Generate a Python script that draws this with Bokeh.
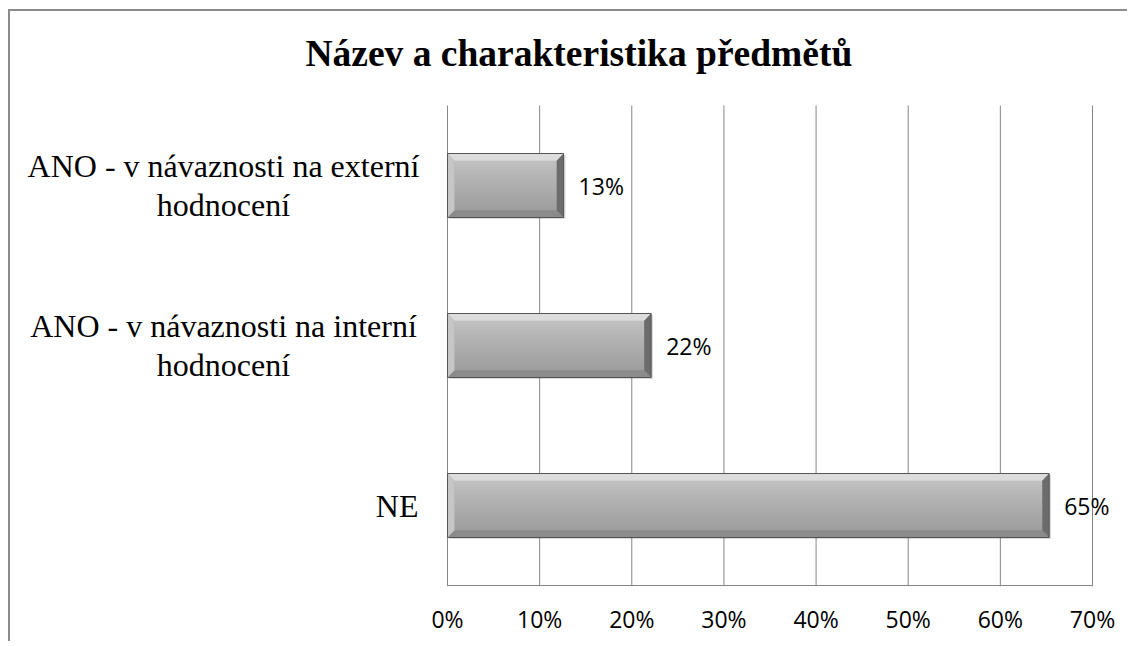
from bokeh.plotting import figure
from bokeh.models import LabelSet, ColumnDataSource, FixedTicker, Range1d
from bokeh.core.properties import value
from bokeh.embed import file_html
from bokeh.resources import INLINE

# ---- data ----
title_text = "Název a charakteristika předmětů"
categories = ["ANO - v návaznosti na externí\nhodnocení",
              "ANO - v návaznosti na interní\nhodnocení",
              "NE"]
values = [12.6, 22.1, 65.3]
value_labels = ["13%", "22%", "65%"]
x_ticks = [0, 10, 20, 30, 40, 50, 60, 70]
x_tick_labels = ["0%", "10%", "20%", "30%", "40%", "50%", "60%", "70%"]

n = len(categories)
ypos = [n - 1 - i for i in range(n)]

# ---- layout (pixels) ----
W, H = 1119, 632
px_per_unit = 645.0 / x_ticks[-1]          # 10 % = ~92 px
py_per_unit = 160.0                         # one category band = 160 px
x_start = -437.0 / px_per_unit              # room on the left for category labels
x_end = 665.0 / px_per_unit                 # room on the right for the last value label
y_lo = -0.5 - 1.0 / py_per_unit
y_plot_top = n - 0.5
y_hi = y_plot_top + 94.0 / py_per_unit      # room above for the title

p = figure(width=W, height=H, output_backend="svg", toolbar_location=None,
           x_range=Range1d(x_start, x_end),
           y_range=Range1d(y_lo, y_hi),
           min_border_left=0, min_border_right=17,
           min_border_top=0, min_border_bottom=57)
p.styles = {"margin-left": "8px", "margin-top": "9px",
            "border-left": "2px solid #8c8c8c",
            "border-top": "2px solid #8c8c8c"}
p.outline_line_color = None
p.background_fill_color = "white"
p.border_fill_color = "white"

# y axis hidden: category labels drawn next to the bars
p.yaxis.visible = False
p.ygrid.visible = False

# x axis
p.xaxis.ticker = FixedTicker(ticks=x_ticks)
p.xaxis.major_label_overrides = {t: s for t, s in zip(x_ticks, x_tick_labels)}
p.xaxis.axis_line_color = None
p.xaxis.major_tick_out = 0
p.xaxis.major_tick_in = 0
p.xaxis.minor_tick_out = 0
p.xaxis.minor_tick_in = 0
p.xaxis.major_label_standoff = 16
p.xaxis.major_label_text_font = "Open Sans"
p.xaxis.major_label_text_font_size = "23px"
p.xaxis.major_label_text_color = "black"
p.xgrid.visible = False

# vertical gridlines only over the plot area
p.segment(x0=x_ticks, x1=x_ticks, y0=[y_lo] * len(x_ticks),
          y1=[y_plot_top] * len(x_ticks), line_color="#868686", line_width=1)
# bottom axis line, from the first to the last tick
p.segment(x0=[x_ticks[0]], x1=[x_ticks[-1]], y0=[-0.5], y1=[-0.5],
          line_color="#868686", line_width=1)

# title
p.text(x=[x_ticks[0]], y=[y_plot_top + 52.0 / py_per_unit], text=[title_text],
       x_offset=-142, text_align="left", text_baseline="middle",
       text_font=value("Liberation Serif"), text_font_style="bold",
       text_font_size="37.5px", text_color="black")

# ---- category labels ----
cat_src = ColumnDataSource(dict(
    x=[x_ticks[0]] * n, y=ypos, t=categories,
    align=["center" if "\n" in c else "right" for c in categories],
    xoff=[-224 if "\n" in c else -29 for c in categories]))
p.text(x="x", y="y", text="t", source=cat_src, text_align="align",
       x_offset="xoff", text_baseline="middle",
       text_font=value("Liberation Serif"), text_font_size="32px",
       text_line_height=1.06, text_color="black")

# ---- bars with bevel ----
h = 0.4
bh = 0.045   # bevel height (y units)
bx = 0.75    # bevel width (x units)

# drop shadow
p.hbar(y=[y - 0.01 for y in ypos], left=0.2, right=[v + 0.2 for v in values],
       height=h, fill_color="black", fill_alpha=0.15, line_color=None)
# base
p.hbar(y=ypos, left=0, right=values, height=h, fill_color="#a9a9a9",
       line_color=None)
# body gradient strips
strips = 20
inner_h = h - 2 * bh
for k in range(strips):
    t = k / (strips - 1)
    g = int(round(0xc0 + (0x9e - 0xc0) * t))
    col = "#%02x%02x%02x" % (g, g, g)
    yc = [y + inner_h / 2 - (k + 0.5) * inner_h / strips for y in ypos]
    p.hbar(y=yc, left=bx, right=[v - bx for v in values],
           height=inner_h / strips + 0.003, fill_color=col, line_color=None)

def bevel(side):
    xs, ys = [], []
    for y, v in zip(ypos, values):
        t, b = y + h / 2, y - h / 2
        if side == "top":
            xs.append([0, v, v - bx, bx]); ys.append([t, t, t - bh, t - bh])
        elif side == "bottom":
            xs.append([0, v, v - bx, bx]); ys.append([b, b, b + bh, b + bh])
        elif side == "left":
            xs.append([0, 0, bx, bx]); ys.append([b, t, t - bh, b + bh])
        else:
            xs.append([v, v, v - bx, v - bx]); ys.append([b, t, t - bh, b + bh])
    return xs, ys

for side, col in [("top", "#dcdcdc"), ("bottom", "#8a8a8a"),
                  ("left", "#c6c6c6"), ("right", "#6c6c6c")]:
    xs, ys = bevel(side)
    p.patches(xs, ys, fill_color=col, line_color=None)

# outline
p.hbar(y=ypos, left=0, right=values, height=h, fill_color=None,
       line_color="#555555", line_width=1)

# value labels
src = ColumnDataSource(dict(x=values, y=ypos, t=value_labels))
p.add_layout(LabelSet(x="x", y="y", text="t", source=src, x_offset=15,
                      text_baseline="middle", text_align="left",
                      text_font=value("Open Sans"), text_font_size="23px",
                      text_color="black"))

open("out.html", "w").write(file_html(p, INLINE))
